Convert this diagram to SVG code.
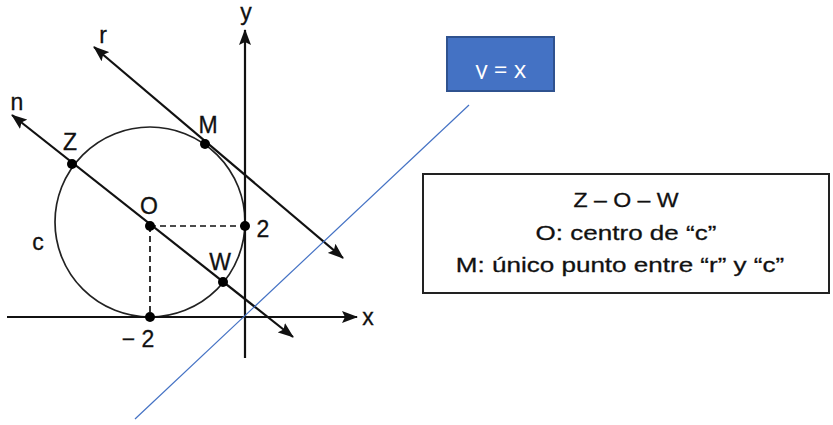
<svg xmlns="http://www.w3.org/2000/svg" width="833" height="425" viewBox="0 0 833 425">
  <style>
    .ln { stroke: #111; stroke-width: 2.2; fill: none; }
    .dash { stroke: #111; stroke-width: 1.7; stroke-dasharray: 6 4; fill: none; }
    .circ { stroke: #222; stroke-width: 1.7; fill: none; }
    .dot { fill: #000; }
    .lbl { font-family: "Liberation Sans", Arial, sans-serif; font-size: 23px; fill: #111; text-anchor: middle; stroke: #111; stroke-width: 0.3; }
    .box { font-family: "Liberation Sans", Arial, sans-serif; font-size: 21px; fill: #111; text-anchor: middle; stroke: #111; stroke-width: 0.3; }
  </style>
  <defs>
    <marker id="arr" viewBox="0 0 16 12" refX="15" refY="6" markerWidth="16" markerHeight="12" markerUnits="userSpaceOnUse" orient="auto-start-reverse">
      <path d="M0,0 L16,6 L0,12 L3,6 z" fill="#111"/>
    </marker>
    <clipPath id="clipYX"><rect x="447" y="37" width="107" height="42"/></clipPath>
  </defs>

  <g id="circle-c">
    <circle class="circ" cx="150" cy="222" r="95"/>
    <text class="lbl" x="38" y="250">c</text>
  </g>

  <g id="connectors">
    <line id="x-axis" class="ln" x1="7" y1="317" x2="357" y2="317" marker-end="url(#arr)"/>
    <line id="y-axis" class="ln" x1="245" y1="358" x2="245" y2="30" marker-end="url(#arr)"/>
    <line id="line-n" class="ln" x1="12" y1="115" x2="293" y2="337" marker-start="url(#arr)" marker-end="url(#arr)"/>
    <line id="line-r" class="ln" x1="94" y1="47" x2="343" y2="258" marker-start="url(#arr)" marker-end="url(#arr)"/>
    <line class="dash" x1="150" y1="226" x2="245" y2="226"/>
    <line class="dash" x1="150" y1="226" x2="150" y2="317"/>
    <line id="line-yx" x1="135" y1="419" x2="469" y2="105" stroke="#4472C4" stroke-width="1.2"/>
  </g>

  <g id="axis-labels">
    <text class="lbl" x="246" y="20">y</text>
    <text class="lbl" x="368" y="325">x</text>
    <text class="lbl" x="103" y="43">r</text>
    <text class="lbl" x="17" y="110">n</text>
  </g>

  <g id="point-Z"><circle class="dot" cx="72" cy="164" r="5"/><text class="lbl" x="70" y="150">Z</text></g>
  <g id="point-M"><circle class="dot" cx="205" cy="144" r="5"/><text class="lbl" x="208" y="133">M</text></g>
  <g id="point-O"><circle class="dot" cx="150" cy="226" r="5"/><text class="lbl" x="149" y="214">O</text></g>
  <g id="point-2"><circle class="dot" cx="245" cy="226" r="5"/><text class="lbl" x="263" y="237">2</text></g>
  <g id="point-W"><circle class="dot" cx="223" cy="282" r="5"/><text class="lbl" x="220" y="270">W</text></g>
  <g id="point-m2"><circle class="dot" cx="150" cy="317" r="5"/><text class="lbl" x="138" y="347">− 2</text></g>

  <g id="label-yx">
    <rect x="447" y="37" width="107" height="54" fill="#4472C4" stroke="#2F528F" stroke-width="2"/>
    <text x="501" y="78" clip-path="url(#clipYX)" font-family="'Open Sans', 'Liberation Sans', sans-serif" font-size="24" fill="#fff" text-anchor="middle">y = x</text>
  </g>

  <g id="legend">
    <rect x="423" y="174" width="406" height="119" fill="#fff" stroke="#222" stroke-width="2"/>
    <text class="box" transform="translate(626,207) scale(1.1,1)" font-size="24">Z – O – W</text>
    <text class="box" transform="translate(626,240) scale(1.24,1)">O: centro de “c”</text>
    <text class="box" transform="translate(620,272) scale(1.24,1)">M: único punto entre “r” y “c”</text>
  </g>
</svg>
